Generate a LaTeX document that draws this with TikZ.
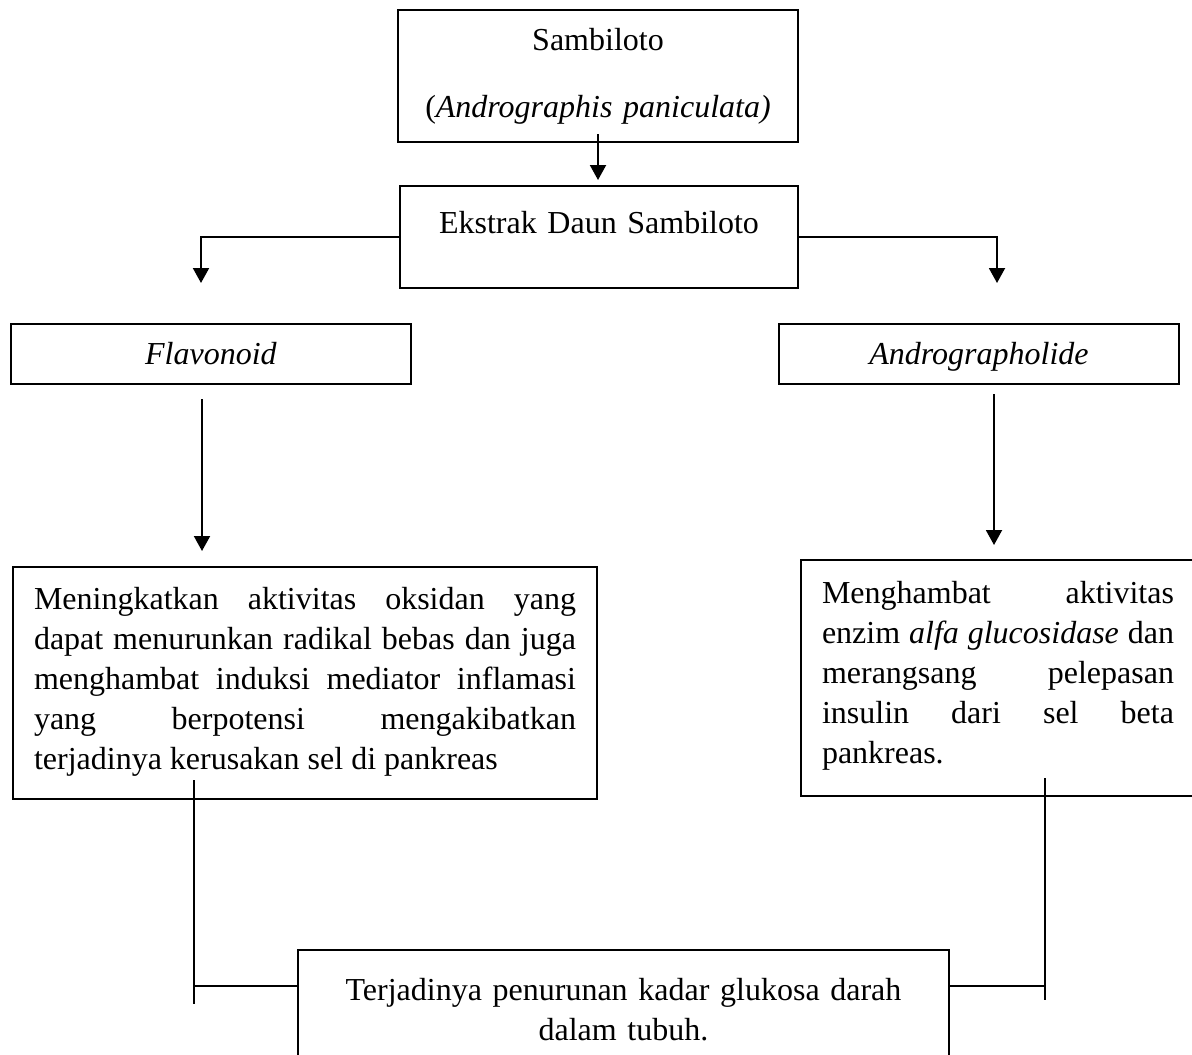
\documentclass[tikz,border=0pt]{standalone}
\usepackage{fontspec}
\setmainfont{Liberation Serif}
\usetikzlibrary{arrows.meta,calc}
\tolerance=10000
\hbadness=10000
\hyphenpenalty=10000

\begin{document}
\begin{tikzpicture}[x=0.5pt,y=-0.5pt,line width=1pt,>={Triangle[length=7.5pt,width=8pt]},font=\fontsize{16}{20}\selectfont]
\tikzstyle{box}=[draw=black,rectangle,anchor=north west,inner xsep=0pt,inner ysep=0pt]
\tikzstyle{arr}=[->]
\useasboundingbox (0,0) rectangle (1192,1054);
\clip (0,0) rectangle (1192,1054);
\node[box,text width=200pt,align=center,text height=20.5pt,text depth=45.5pt] (sambiloto) at (397,9) {Sambiloto\\[13.5pt](\textit{Andrographis paniculata)}};
\node[box,text width=199pt,align=center,text height=23.5pt,text depth=27.5pt] (ekstrak) at (399,185) {Ekstrak Daun Sambiloto};
\node[box,text width=200pt,align=center,text height=20pt,text depth=10pt] (flavonoid) at (10,323) {\textit{Flavonoid}};
\node[box,text width=200pt,align=center,text height=20pt,text depth=10pt] (andro) at (778,323) {\textit{Andrographolide}};
\node[box,inner xsep=10.5pt,text width=271pt,align=justify,text height=21pt,text depth=95pt] (oksidan) at (12,566) {Meningkatkan aktivitas oksidan yang\linebreak dapat menurunkan radikal bebas dan juga\linebreak menghambat induksi mediator inflamasi\linebreak yang berpotensi mengakibatkan\linebreak terjadinya kerusakan sel di pankreas};
\node[box,inner xsep=10.5pt,text width=176pt,align=justify,text height=21.5pt,text depth=96.5pt] (insulin) at (800,559) {Menghambat aktivitas\linebreak enzim \textit{alfa glucosidase} dan\linebreak merangsang pelepasan\linebreak insulin dari sel beta\linebreak pankreas.};
\node[box,text width=325.5pt,align=center,text height=25pt,text depth=40pt] (glukosa) at (297,949) {Terjadinya penurunan kadar glukosa darah\\dalam tubuh.};
\coordinate (flavoIn) at (201,283);
\coordinate (androIn) at (997,283);
\coordinate (flavoX) at (202,0);
\coordinate (androX) at (994,0);
\coordinate (joinL) at (194,986);
\coordinate (joinR) at (1045,986);
\draw[arr,shorten >=2.5pt] ([yshift=4.5pt]sambiloto.south) -- (ekstrak.north -| sambiloto.south);
\draw[arr] (ekstrak.west) -| (flavoIn);
\draw[arr] (ekstrak.east) -| (androIn);
\draw[arr,shorten <=7pt,shorten >=7.5pt] (flavonoid.south -| flavoX) -- (oksidan.north -| flavoX);
\draw[arr,shorten <=4.5pt,shorten >=7pt] (andro.south -| androX) -- (insulin.north -| androX);
\draw ($(joinL |- oksidan.south)+(0,-20)$) -- ($(joinL)+(0,18)$);
\draw (joinL) -- (joinL -| glukosa.west);
\draw ($(joinR |- insulin.south)+(0,-19)$) -- ($(joinR)+(0,14)$);
\draw (glukosa.east |- joinR) -- (joinR);
\end{tikzpicture}
\end{document}
